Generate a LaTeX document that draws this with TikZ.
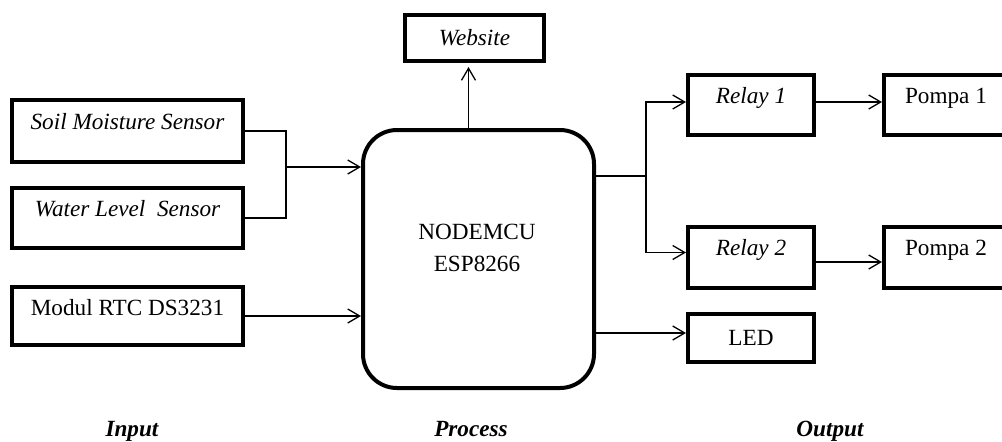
\documentclass[tikz,border=0pt]{standalone}
\usepackage{fontspec}
\setmainfont{Liberation Serif}
\usepackage{tikz}
\usetikzlibrary{arrows.meta}
\newcommand{\blkfont}{\fontsize{11.6}{16}\selectfont}

\begin{document}
\begin{tikzpicture}[x=0.5pt, y=-0.5pt, font=\blkfont,
  wire/.style={line width=0.65pt, -{Straight Barb[length=6pt, width=7pt]}},
  topbox/.style={draw, line width=2pt, inner sep=0pt, text height=14pt, text depth=16pt},
  midbox/.style={draw, line width=2pt, inner sep=0pt},
  stage/.style={font=\blkfont\bfseries\itshape, anchor=base}]
  \useasboundingbox (0,0) rectangle (1002,441);
  \clip (0,0) rectangle (1002,441);
  % input side
  \node[topbox, minimum width=115.5pt, minimum height=31pt] (soil) at (127.5,131) {\itshape Soil Moisture Sensor};
  \node[topbox, minimum width=115.5pt, minimum height=30pt] (water) at (127.5,218) {\itshape Water Level~ Sensor};
  \node[topbox, minimum width=115.5pt, minimum height=29pt, text depth=15pt] (rtc) at (127.5,316) {Modul RTC DS3231};
  % the controller
  \node[draw, line width=2pt, rounded corners=17pt, minimum width=115.5pt, minimum height=129pt] (esp) at (478.5,259) {};
  \node[align=center, inner sep=0pt] (esptxt) at (477,248) {NODEMCU\\ESP8266};
  \node[midbox, minimum width=69.5pt, minimum height=23pt] (web) at (474.5,38) {\itshape Website};
  % output side
  \node[topbox, minimum width=63pt, minimum height=30pt] (relay1) at (751,105) {\itshape Relay 1};
  \node[topbox, minimum width=63pt, minimum height=30.5pt] (relay2) at (751,257.5) {\itshape Relay 2};
  \node[topbox, minimum width=62pt, minimum height=30pt] (pompa1) at (946,105) {Pompa 1};
  \node[topbox, minimum width=62pt, minimum height=30.5pt] (pompa2) at (946,257.5) {Pompa 2};
  \node[midbox, minimum width=63pt, minimum height=24pt] (led) at (751,338) {LED};

  \coordinate (inj) at (286,167);
  \coordinate (outj) at (646,176);
  \draw[line width=0.65pt] (soil.east) -| (inj);
  \draw[line width=0.65pt] (water.east) -| (inj);
  \draw[wire] (inj) -- (inj -| esp.west);
  \draw[wire] (rtc.east) -- (rtc.east -| esp.west);
  \draw[wire, shorten >=2pt] ([xshift=-5pt]esp.north) -- ([xshift=-5pt]esp.north |- web.south);
  \draw[line width=0.65pt] (outj -| esp.east) -- (outj);
  \draw[wire] (outj) |- ([yshift=1.5pt]relay1.west);
  \draw[wire] (outj) |- ([yshift=2.5pt]relay2.west);
  \draw[wire] ([yshift=1.5pt]relay1.east) -- ([yshift=1.5pt]pompa1.west);
  \draw[wire] ([yshift=-2.25pt]relay2.east) -- ([yshift=-2.25pt]pompa2.west);
  \draw[wire] ([yshift=2.5pt]led.west -| esp.east) -- ([yshift=2.5pt]led.west);

  \node[stage] (inlbl) at (132,436) {Input};
  \node[stage] (proclbl) at (471,436) {Process};
  \node[stage] (outlbl) at (830,436) {Output};
\end{tikzpicture}
\end{document}
